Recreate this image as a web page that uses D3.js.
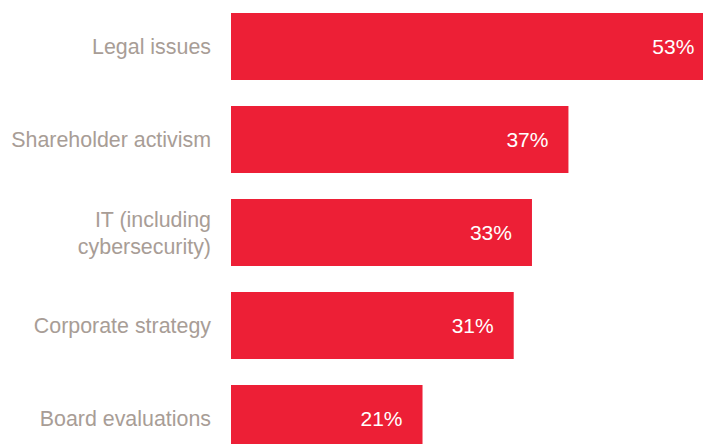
<!DOCTYPE html>
<html><head><meta charset="utf-8">
<script src="https://cdn.jsdelivr.net/npm/d3@7"></script>
<style>html,body{margin:0;padding:0;background:#fff;overflow:hidden}svg{display:block}</style>
</head><body>
<script>
const categories = ["Legal issues", "Shareholder activism", "IT (including\ncybersecurity)", "Corporate strategy", "Board evaluations"];
const values = [53, 37, 33, 31, 21];
const valueLabels = ["53%", "37%", "33%", "31%", "21%"];

const W = 703, H = 444;
const svg = d3.select("body").append("svg").attr("width", W).attr("height", H);

const x = d3.scaleLinear().domain([0, 100]).range([231, 231 + 912]);
const y = d3.scaleBand().domain(categories).range([13, 452]).paddingInner(26/93).paddingOuter(0);

const font = "'Liberation Sans', Arial, Helvetica, sans-serif";

svg.selectAll("rect.bar").data(categories).join("rect")
  .attr("class", "bar")
  .attr("x", x(0))
  .attr("y", d => y(d))
  .attr("width", (d, i) => x(values[i]) - x(0))
  .attr("height", y.bandwidth())
  .attr("fill", "#ed1f36");

svg.selectAll("text.val").data(categories).join("text")
  .attr("class", "val")
  .attr("x", (d, i) => x(values[i]) - 20)
  .attr("y", d => y(d) + y.bandwidth() / 2 + 7.5)
  .attr("text-anchor", "end")
  .attr("font-family", font)
  .attr("font-size", 21)
  .attr("fill", "#ffffff")
  .text((d, i) => valueLabels[i]);

const cat = svg.selectAll("text.cat").data(categories).join("text")
  .attr("class", "cat")
  .attr("text-anchor", "end")
  .attr("font-family", font)
  .attr("font-size", 21.4)
  .attr("fill", "#a89d96");

cat.each(function(d) {
  const lines = d.split("\n");
  const t = d3.select(this);
  const cy = y(d) + y.bandwidth() / 2 + 7.5;
  const lh = 27;
  const start = cy - (lines.length - 1) * lh / 2;
  lines.forEach((ln, i) => {
    t.append("tspan").attr("x", x(0) - 20).attr("y", start + i * lh).text(ln);
  });
});
</script>
</body></html>
